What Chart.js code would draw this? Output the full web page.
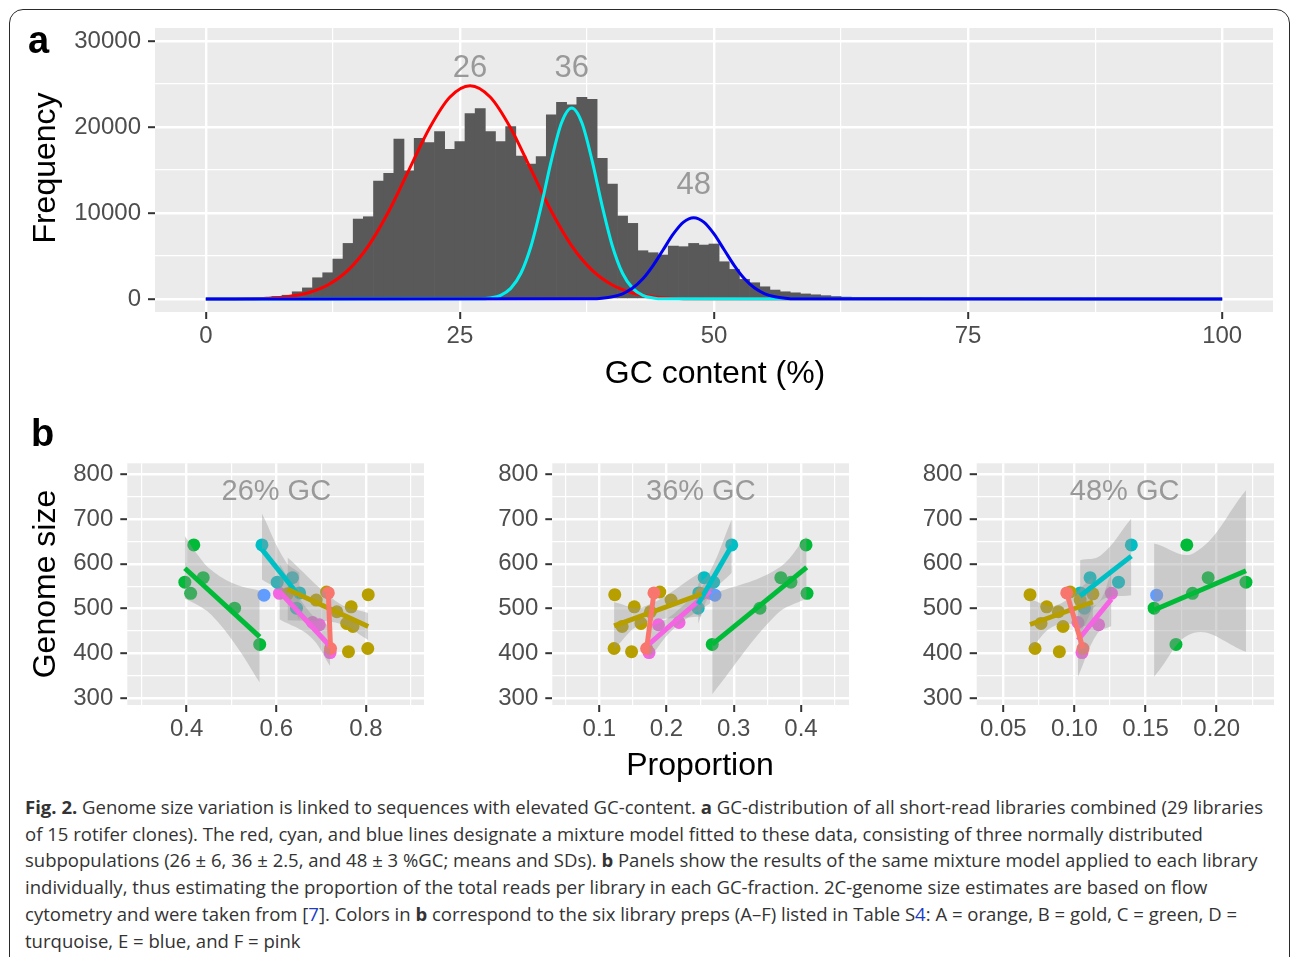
<!DOCTYPE html>
<html>
<head>
<meta charset="utf-8">
<script src="https://cdn.jsdelivr.net/npm/chart.js@4/dist/chart.umd.min.js"></script>
<style>
  body { margin: 0; width: 1292px; height: 957px; position: relative; overflow: hidden; background: #fff;
         font-family: "Liberation Sans", Arial, sans-serif; }
  .frame { position: absolute; left: 9px; top: 9px; width: 1281px; height: 1100px; box-sizing: border-box;
           border: 1.6px solid #2a2a2a; border-radius: 14px; }
  .cv { position: absolute; }
  .lbl { position: absolute; font-weight: bold; font-size: 38px; line-height: 38px; color: #000; }
  .ttl { position: absolute; font-size: 32px; line-height: 32px; color: #000; white-space: nowrap;
         transform: translate(-50%, -50%); }
  .rot { transform: translate(-50%, -50%) rotate(-90deg); }
  .cap { position: absolute; left: 25px; top: 794px; font-family: "Open Sans", sans-serif; font-size: 18.55px;
         line-height: 26.7px; color: #333; white-space: nowrap; }
  .cap a { color: #1a3cc8; text-decoration: none; }
</style>
</head>
<body>
<div class="frame"></div>

<div class="cv" style="left:0;top:0"><canvas id="chartA" width="1292" height="400"></canvas></div>
<div class="cv" style="left:0;top:440px"><canvas id="chart26" width="440" height="340"></canvas></div>
<div class="cv" style="left:430px;top:440px"><canvas id="chart36" width="440" height="340"></canvas></div>
<div class="cv" style="left:855px;top:440px"><canvas id="chart48" width="437" height="340"></canvas></div>

<div class="lbl" style="left:28px;top:21px">a</div>
<div class="lbl" style="left:31px;top:414px">b</div>
<div class="ttl rot" style="left:44px;top:168px">Frequency</div>
<div class="ttl" style="left:715px;top:372px">GC content (%)</div>
<div class="ttl rot" style="left:44px;top:584px">Genome size</div>
<div class="ttl" style="left:700px;top:764px">Proportion</div>

<div class="cap">
<b>Fig. 2.</b> Genome size variation is linked to sequences with elevated GC-content. <b>a</b> GC-distribution of all short-read libraries combined (29 libraries<br>
of 15 rotifer clones). The red, cyan, and blue lines designate a mixture model fitted to these data, consisting of three normally distributed<br>
subpopulations (26 ± 6, 36 ± 2.5, and 48 ± 3 %GC; means and SDs). <b>b</b> Panels show the results of the same mixture model applied to each library<br>
individually, thus estimating the proportion of the total reads per library in each GC-fraction. 2C-genome size estimates are based on flow<br>
cytometry and were taken from [<a>7</a>]. Colors in <b>b</b> correspond to the six library preps (A–F) listed in Table S<a>4</a>: A = orange, B = gold, C = green, D =<br>
turquoise, E = blue, and F = pink
</div>

<script>
// ---------- panel a: GC histogram + mixture components ----------
var gcBins = [5,6,7,8,9,10,11,12,13,14,15,16,17,18,19,20,21,22,23,24,25,26,27,28,29,30,31,32,33,34,35,36,37,38,39,40,
  41,42,43,44,45,46,47,48,49,50,51,52,53,54,55,56,57,58,59,60,61,62,63,64,65,66,67,68,69,70];
var gcCounts = [50,150,300,450,850,1300,2480,3060,4650,6470,9300,9570,13720,14600,18600,14900,18680,18200,19450,17400,
  18300,21550,22130,19450,18300,20040,16630,15700,16550,21400,22870,22560,23450,23220,16360,13370,9650,8800,5620,5390,
  5120,6160,6090,6470,6280,6400,4340,3450,2290,1900,1430,1050,850,730,600,500,400,300,230,150,100,70,50,30,20,10];

var redX = [0,4,6,8,10,12,14,16,18,20,22,24,26,28,30,32,34,36,38,40,42,44,46,48,100];
var redY = [0,30,96,275,710,1630,3360,6180,10200,15040,19860,23460,24800,23460,19860,15040,10200,6180,3360,1630,710,275,96,30,0];
var cyanX = [0,27,28,29,30,31,32,33,34,35,36,37,38,39,40,41,42,43,44,45,100];
var cyanY = [0,33,133,440,1245,3000,6170,10810,16120,20490,22200,20490,16120,10810,6170,3000,1245,440,133,33,0];
var blueX = [0,38,39,40,41,42,43,44,45,46,47,48,49,50,51,52,53,54,55,56,57,58,100];
var blueY = [0,37,105,270,620,1280,2350,3890,5730,7570,8940,9450,8940,7570,5730,3890,2350,1280,620,270,105,37,0];

var peakLabels = ['26', '36', '48'];
var peakX = [26, 36, 48];
var peakLabelY = [26800, 26800, 13150];

var gcTicks = [0, 12.5, 25, 37.5, 50, 62.5, 75, 87.5, 100];
var gcMajor = [0, 25, 50, 75, 100];
var freqTicks = [0, 5000, 10000, 15000, 20000, 25000, 30000];
var freqMajor = [0, 10000, 20000, 30000];

// ---------- panel b: genome size vs proportion per library prep ----------
var preps = ['A', 'B', 'C', 'D', 'E', 'F'];
var prepColors = ['#F8766D', '#B79F00', '#00BA38', '#00BFC4', '#619CFF', '#F564E3'];

var genomeSize = {
  A: [535, 411],
  B: [531, 504, 404, 411, 519, 493, 467, 460, 533, 537],
  C: [642, 569, 559, 534, 501, 420],
  D: [642, 569, 559, 535, 501],
  E: [530],
  F: [534, 469, 464, 402]
};
var prop26 = {
  A: [0.716, 0.721],
  B: [0.805, 0.767, 0.761, 0.804, 0.689, 0.735, 0.757, 0.771, 0.625, 0.712],
  C: [0.416, 0.437, 0.396, 0.409, 0.507, 0.563],
  D: [0.568, 0.636, 0.602, 0.652, 0.645],
  E: [0.5725],
  F: [0.607, 0.681, 0.696, 0.720]
};
var prop36 = {
  A: [0.1813, 0.1704],
  B: [0.123, 0.152, 0.148, 0.122, 0.2067, 0.176, 0.162, 0.134, 0.252, 0.190],
  C: [0.4075, 0.370, 0.385, 0.409, 0.339, 0.268],
  D: [0.297, 0.256, 0.270, 0.248, 0.247],
  E: [0.272],
  F: [0.265, 0.2186, 0.188, 0.174]
};
var prop48 = {
  A: [0.0946, 0.106],
  B: [0.0688, 0.0805, 0.0894, 0.0723, 0.104, 0.0887, 0.0765, 0.092, 0.113, 0.097],
  C: [0.179, 0.194, 0.2206, 0.183, 0.156, 0.1714],
  D: [0.140, 0.111, 0.131, 0.104, 0.107],
  E: [0.1578],
  F: [0.126, 0.1025, 0.117, 0.1053]
};

// fitted lines [x1, y1, x2, y2]
var fit26 = { A: [0.716, 535, 0.721, 411], B: [0.625, 543, 0.805, 460], C: [0.396, 590, 0.563, 437],
              D: [0.568, 632, 0.652, 527], F: [0.607, 538, 0.720, 416] };
var fit36 = { A: [0.1813, 535, 0.1704, 411], B: [0.122, 461.5, 0.252, 532.5], C: [0.268, 420.3, 0.4084, 591.9],
              D: [0.247, 510, 0.297, 640], F: [0.174, 421, 0.265, 540] };
var fit48 = { A: [0.0946, 535, 0.106, 411], B: [0.0688, 464.5, 0.113, 514.7], C: [0.156, 496.8, 0.2206, 584.5],
              D: [0.104, 528, 0.140, 617], F: [0.1025, 430, 0.126, 521] };

// confidence ribbons
var band26 = {
  B: { x: [0.625, 0.740, 0.805], lo: [474, 467, 430], hi: [614, 512, 490] },
  C: { x: [0.396, 0.4245, 0.455, 0.5086, 0.563], lo: [522, 508, 486, 420, 335], hi: [662, 620, 586, 554, 540] },
  D: { x: [0.568, 0.6208, 0.652], lo: [565, 529, 473], hi: [712, 605, 580] },
  F: { x: [0.607, 0.676, 0.720], lo: [476, 437, 372], hi: [600, 490, 460] }
};
var band36 = {
  B: { x: [0.122, 0.164, 0.252], lo: [410, 466, 483], hi: [514, 503, 582] },
  C: { x: [0.268, 0.3631, 0.4084], lo: [309, 486, 523], hi: [532, 587, 661] },
  D: { x: [0.247, 0.2641, 0.297], lo: [466, 529, 580], hi: [555, 581, 699] },
  F: { x: [0.174, 0.2114, 0.265], lo: [388, 456, 512], hi: [455, 489, 568] }
};
var band48 = {
  B: { x: [0.0688, 0.087, 0.113], lo: [409, 463, 459], hi: [521, 507, 570] },
  C: { x: [0.156, 0.1841, 0.2206], lo: [348, 446, 404], hi: [645, 624, 764] },
  D: { x: [0.104, 0.1186, 0.140], lo: [443, 518, 530], hi: [608, 619, 701] },
  F: { x: [0.1025, 0.116, 0.126], lo: [348, 444, 461], hi: [512, 511, 580] }
};

var sizeTicks = [300, 350, 400, 450, 500, 550, 600, 650, 700, 750, 800];
var sizeMajor = [300, 400, 500, 600, 700, 800];
var ticks26 = [0.3, 0.4, 0.5, 0.6, 0.7, 0.8, 0.9];
var major26 = [0.4, 0.6, 0.8];
var ticks36 = [0.05, 0.1, 0.15, 0.2, 0.25, 0.3, 0.35, 0.4, 0.45];
var major36 = [0.1, 0.2, 0.3, 0.4];
var ticks48 = [0.05, 0.075, 0.1, 0.125, 0.15, 0.175, 0.2, 0.225];
var major48 = [0.05, 0.1, 0.15, 0.2];
var panelTitles = ['26% GC', '36% GC', '48% GC'];
var panelTitleX = [0.6, 0.251, 0.1353];
var panelTitleY = 760;

Chart.defaults.font.family = "'Liberation Sans', Arial, sans-serif";

function isIn(list) {
  return function(v) {
    return list.some(function(m) { return Math.abs(m - v) < 1e-9; });
  };
}

var panelBg = {
  id: 'panelBg',
  beforeDraw: function(chart) {
    var a = chart.chartArea, ctx = chart.ctx;
    ctx.save();
    ctx.fillStyle = '#EBEBEB';
    ctx.fillRect(a.left, a.top, a.right - a.left, a.bottom - a.top);
    ctx.restore();
  }
};

var annot = {
  id: 'annot',
  afterDatasetsDraw: function(chart, args, opts) {
    var ctx = chart.ctx;
    ctx.save();
    ctx.font = opts.font;
    ctx.fillStyle = opts.color;
    ctx.textAlign = 'center';
    ctx.textBaseline = 'middle';
    for (var i = 0; i < opts.texts.length; i++) {
      ctx.fillText(opts.texts[i], chart.scales.x.getPixelForValue(opts.x[i]), chart.scales.y.getPixelForValue(opts.y[i]));
    }
    ctx.restore();
  }
};

function axis(min, max, tickList, majorList, fmt, fitSize, horizontal) {
  var major = isIn(majorList);
  var opts = {
    type: 'linear', min: min, max: max, offset: false,
    border: { display: false },
    afterBuildTicks: function(s) { s.ticks = tickList.map(function(v) { return { value: v }; }); },
    grid: {
      offset: false,
      color: '#ffffff',
      lineWidth: function(c) { return c.tick && major(c.tick.value) ? 2.4 : 1.2; },
      tickColor: function(c) { return c.tick && major(c.tick.value) ? '#333333' : 'rgba(0,0,0,0)'; },
      tickLength: 7, tickWidth: 2
    },
    ticks: {
      autoSkip: false, maxRotation: 0, minRotation: 0,
      color: '#4D4D4D', font: { size: 24 }, padding: horizontal ? 3 : 7,
      callback: function(v) { return major(v) ? fmt(v) : ''; }
    }
  };
  if (horizontal) opts.afterFit = function(s) { s.height = fitSize; };
  else opts.afterFit = function(s) { s.width = fitSize; };
  return opts;
}

function pts(xs, ys) {
  return xs.map(function(x, i) { return { x: x, y: ys[i] }; });
}

// panel a
new Chart(document.getElementById('chartA'), {
  type: 'scatter',
  data: {
    datasets: [
      { type: 'line', data: pts(blueX, blueY), borderColor: '#0000EE', borderWidth: 3, pointRadius: 0,
        cubicInterpolationMode: 'monotone', order: 0 },
      { type: 'line', data: pts(cyanX, cyanY), borderColor: '#00F0F0', borderWidth: 3, pointRadius: 0,
        cubicInterpolationMode: 'monotone', order: 1 },
      { type: 'line', data: pts(redX, redY), borderColor: '#FF0000', borderWidth: 3, pointRadius: 0,
        cubicInterpolationMode: 'monotone', order: 2 },
      { type: 'bar', data: pts(gcBins, gcCounts), backgroundColor: '#595959', borderWidth: 0,
        barPercentage: 1, categoryPercentage: 1, order: 3 }
    ]
  },
  options: {
    responsive: false, animation: false, events: [],
    layout: { padding: { top: 28, right: 19, left: 0, bottom: 0 } },
    plugins: {
      legend: { display: false }, tooltip: { enabled: false },
      annot: { texts: peakLabels, x: peakX, y: peakLabelY, font: '31px "Liberation Sans", Arial, sans-serif', color: '#999999' }
    },
    scales: {
      x: axis(-5, 105, gcTicks, gcMajor, function(v) { return String(v); }, 88, true),
      y: axis(-1500, 31500, freqTicks, freqMajor, function(v) { return String(v); }, 155, false)
    }
  },
  plugins: [panelBg, annot]
});

function makePanel(id, props, fits, bands, xMin, xMax, tickList, majorList, digits, yWidth, padRight, k) {
  var ds = [];
  preps.forEach(function(p, j) {
    ds.push({ data: pts(props[p], genomeSize[p]), backgroundColor: prepColors[j], borderWidth: 0,
              pointRadius: 6.5, pointHoverRadius: 6.5, order: 3 });
  });
  preps.forEach(function(p) {
    var b = bands[p];
    if (!b) return;
    ds.push({ type: 'line', data: pts(b.x, b.hi), fill: '+1', backgroundColor: 'rgba(153,153,153,0.4)',
              borderWidth: 0, pointRadius: 0, tension: 0.4, order: 2 });
    ds.push({ type: 'line', data: pts(b.x, b.lo), fill: false, borderWidth: 0, pointRadius: 0, tension: 0.4, order: 2 });
  });
  preps.forEach(function(p, j) {
    var f = fits[p];
    if (!f) return;
    ds.push({ type: 'line', data: [{ x: f[0], y: f[1] }, { x: f[2], y: f[3] }], borderColor: prepColors[j],
              borderWidth: 5, pointRadius: 0, fill: false, order: 1 });
  });
  new Chart(document.getElementById(id), {
    type: 'scatter',
    data: { datasets: ds },
    options: {
      responsive: false, animation: false, events: [],
      layout: { padding: { top: 23.3, right: padRight, left: 0, bottom: 0 } },
      plugins: {
        legend: { display: false }, tooltip: { enabled: false },
        annot: { texts: [panelTitles[k]], x: [panelTitleX[k]], y: [panelTitleY],
                 font: '29px "Liberation Sans", Arial, sans-serif', color: '#999999' }
      },
      scales: {
        x: axis(xMin, xMax, tickList, majorList, function(v) { return v.toFixed(digits); }, 75, true),
        y: axis(285, 824, sizeTicks, sizeMajor, function(v) { return String(v); }, yWidth, false)
      }
    },
    plugins: [panelBg, annot]
  });
}

makePanel('chart26', prop26, fit26, band26, 0.2677, 0.9294, ticks26, major26, 1, 127.3, 16, 0);
makePanel('chart36', prop36, fit36, band36, 0.0301, 0.4714, ticks36, major36, 1, 122.3, 21, 1);
makePanel('chart48', prop48, fit48, band48, 0.0313, 0.2403, ticks48, major48, 2, 121.7, 18, 2);
</script>
</body>
</html>
